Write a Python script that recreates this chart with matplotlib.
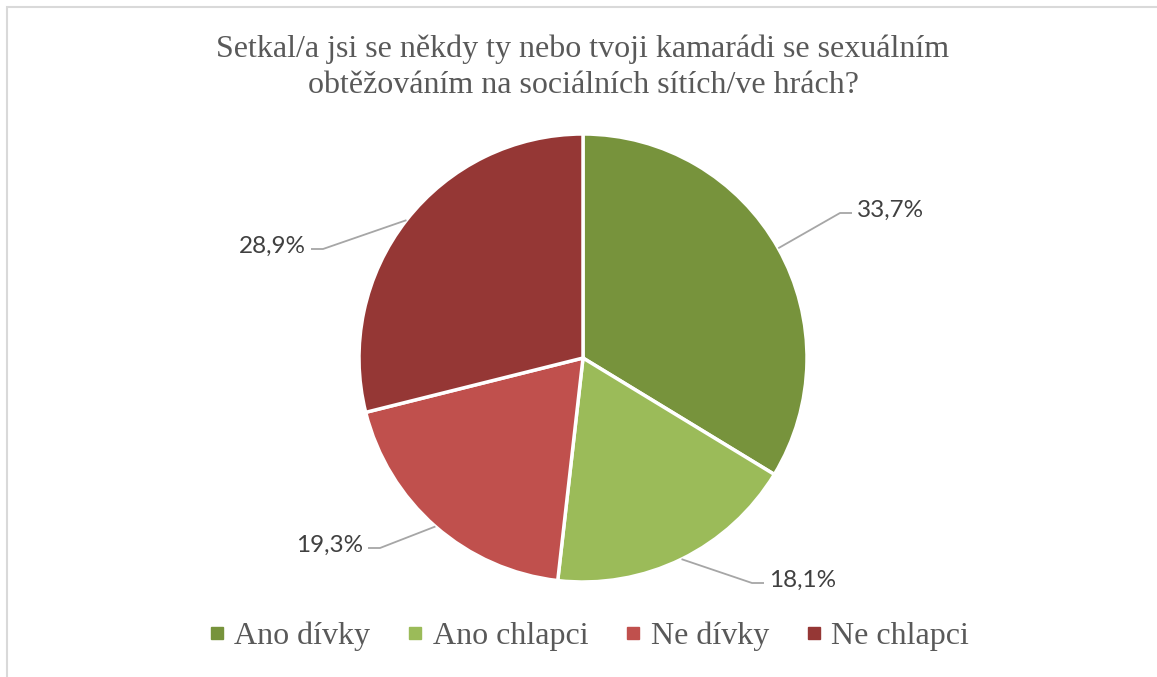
"""
Pie chart: Setkal/a jsi se někdy ty nebo tvoji kamarádi se sexuálním
obtěžováním na sociálních sítích/ve hrách?
"""

import numpy as np
import matplotlib

matplotlib.use("Agg")
import matplotlib.pyplot as plt
from matplotlib.lines import Line2D
from matplotlib.patches import Rectangle

# data
categories = ["Ano dívky", "Ano chlapci", "Ne dívky", "Ne chlapci"]
shares = [33.7, 18.1, 19.3, 28.9]
label_texts = ["33,7%", "18,1%", "19,3%", "28,9%"]
colors = ["#77933C", "#9BBB59", "#C0504D", "#953735"]

TITLE = ("Setkal/a jsi se někdy ty nebo tvoji kamarádi se sexuálním\n"
         "obtěžováním na sociálních sítích/ve hrách?")

W, H = 1157, 677
CX, CY, R = 583, H - 358, 224

# elbow of each leader line (pixel coords, y from the bottom), side of label
elbows = [(840, H - 213, 1), (752, H - 583, 1), (380, H - 548, -1), (323, H - 249, -1)]


def main() -> None:
    fig = plt.figure(figsize=(W / 100, H / 100), dpi=100)
    ax = fig.add_axes([0, 0, 1, 1])

    wedges, _ = ax.pie(
        shares, colors=colors, startangle=90, counterclock=False,
        center=(CX, CY), radius=R,
        wedgeprops=dict(edgecolor="white", linewidth=2.5),
    )
    ax.set_xlim(0, W)
    ax.set_ylim(0, H)
    ax.set_aspect("equal")
    ax.axis("off")

    # leader lines and percentage labels
    for w, txt, (ex, ey, side) in zip(wedges, label_texts, elbows):
        mid = np.deg2rad(0.5 * (w.theta1 + w.theta2))
        sx, sy = CX + R * np.cos(mid), CY + R * np.sin(mid)
        hx = ex + side * 12
        ax.plot([sx, ex, hx], [sy, ey, ey], color="#A6A6A6", linewidth=1.3,
                solid_capstyle="butt")
        ax.text(hx + side * 5, ey + 3, txt, ha="left" if side > 0 else "right",
                va="center", fontsize=17.5, family="Lato", color="#404040")

    # chart border
    ax.add_patch(Rectangle((6.5, -5), W, H - 6.5 + 5, fill=False,
                           edgecolor="#D9D9D9", linewidth=1.5, clip_on=False))

    ax.text(583, H - 67, TITLE, ha="center", va="center", fontsize=23,
            family="Liberation Serif", color="#595959", linespacing=1.3)

    handles = [Line2D([], [], marker="s", linestyle="none", markersize=9,
                      markerfacecolor=c, markeredgecolor=c) for c in colors]
    fig.legend(handles, categories, loc="center", bbox_to_anchor=(589 / W, 1 - 636 / H),
               ncol=4, frameon=False, handlelength=0.5, handletextpad=0.3,
               columnspacing=1.15, prop=dict(family="Liberation Serif", size=23),
               labelcolor="#595959")

    fig.savefig("out.png", dpi=100)
    plt.close(fig)


if __name__ == "__main__":
    main()
